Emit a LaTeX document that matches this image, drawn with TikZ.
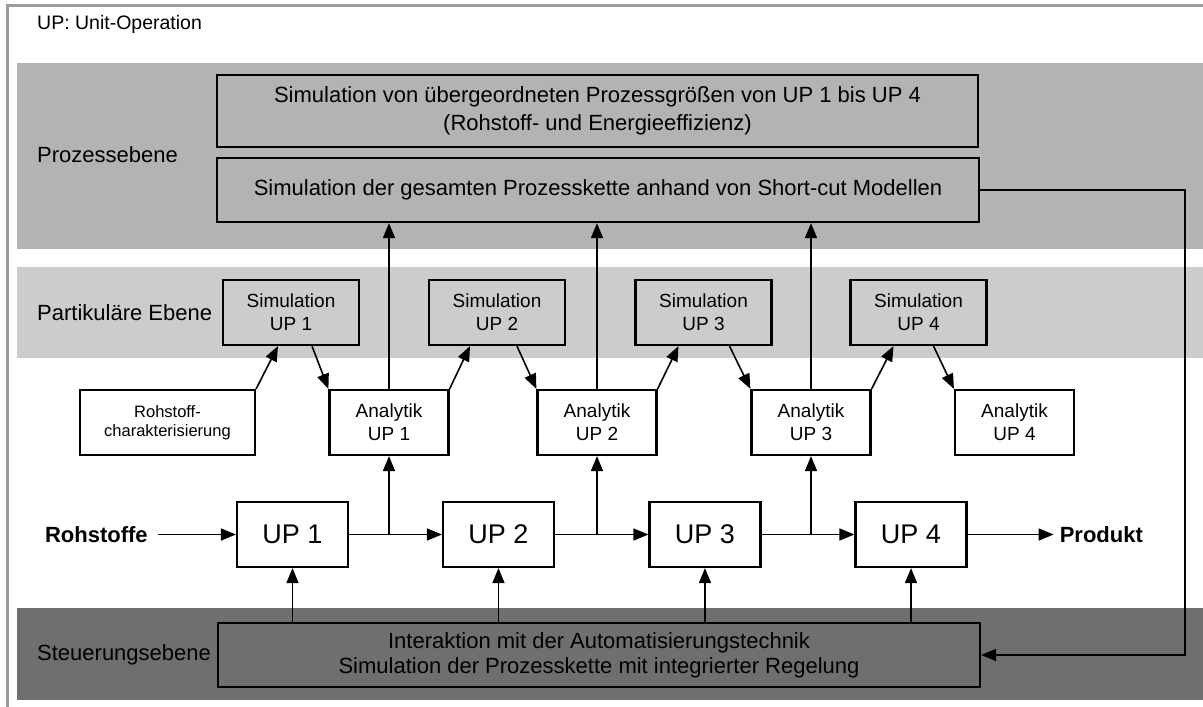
\documentclass[tikz,border=0pt]{standalone}
\usepackage{fontspec}
\setmainfont{Liberation Sans}
\usetikzlibrary{arrows.meta,positioning}

\definecolor{prozessgrau}{HTML}{B3B3B3}
\definecolor{partikelgrau}{HTML}{CCCCCC}
\definecolor{steuergrau}{HTML}{6F6F6F}
\definecolor{rahmengrau}{HTML}{9C9C9C}

\begin{document}
\begin{tikzpicture}[x=1pt, y=-1pt,
	box/.style={draw, line width=2.2pt, inner sep=0pt, align=center},
	ebene/.style={anchor=west, inner sep=0pt, font=\fontsize{22}{26}\selectfont},
	arr/.style={-{Triangle[length=15pt,width=12pt]}, line width=1.6pt},
	sim/.style={box, fill=partikelgrau, minimum width=136pt, minimum height=65pt, font=\fontsize{19}{23}\selectfont},
	ana/.style={box, fill=white, minimum width=119pt, minimum height=65pt, font=\fontsize{19}{23}\selectfont},
	up/.style={box, fill=white, minimum width=111pt, minimum height=65pt, font=\fontsize{27}{32}\selectfont}]
	\useasboundingbox (0,0) rectangle (1203,707);
	\draw [rahmengrau, line width=3pt] (7,707) -- (7,5) -- (1203,5);
	\fill [prozessgrau] (17,63) rectangle (1203,249);
	\fill [partikelgrau] (17,267) rectangle (1203,358);
	\fill [steuergrau] (17,608) rectangle (1203,700);

	\node [ebene, font=\fontsize{19.5}{23}\selectfont] (legende) at (37,24) {UP: Unit-Operation};
	\node [ebene] (prozess) at (37,155) {Prozessebene};
	\node [ebene] (partikel) at (37,313) {Partikuläre Ebene};
	\node [ebene] (steuerung) at (37,655) {Steuerungsebene};

	\node [box, fill=prozessgrau, minimum width=761pt, minimum height=72pt, font=\fontsize{22}{28}\selectfont] (groessen) at (597.5,111) {Simulation von übergeordneten Prozessgrößen von UP 1 bis UP 4\\(Rohstoff- und Energieeffizienz)};
	\node [box, fill=prozessgrau, minimum width=762pt, minimum height=64pt, font=\fontsize{22}{28}\selectfont] (kette) at (598,190) {Simulation der gesamten Prozesskette anhand von Short-cut Modellen};

	\node [sim] (sim1) at (291,312.5) {Simulation\\UP 1};
	\node [sim] (sim2) at (497,312.5) {Simulation\\UP 2};
	\node [sim] (sim3) at (703.5,312.5) {Simulation\\UP 3};
	\node [sim] (sim4) at (918.5,312.5) {Simulation\\UP 4};

	\node [ana, minimum width=175pt, font=\fontsize{16.5}{19}\selectfont] (roh) at (167.5,422.5) {Rohstoff-\\charakterisierung};
	\node [ana] (ana1) at (389,422.5) {Analytik\\UP 1};
	\node [ana] (ana2) at (597,422.5) {Analytik\\UP 2};
	\node [ana] (ana3) at (811,422.5) {Analytik\\UP 3};
	\node [ana] (ana4) at (1014.5,422.5) {Analytik\\UP 4};

	\node [up] (up1) at (292.5,534.5) {UP 1};
	\node [up] (up2) at (498.5,534.5) {UP 2};
	\node [up] (up3) at (705,534.5) {UP 3};
	\node [up] (up4) at (911,534.5) {UP 4};
	\node [left=78pt of up1, inner xsep=10pt, inner ysep=0pt, font=\fontsize{22}{26}\selectfont\bfseries] (rohstoffe) {Rohstoffe};
	\node [right=86pt of up4, inner xsep=6pt, inner ysep=0pt, font=\fontsize{22}{26}\selectfont\bfseries] (produkt) {Produkt};

	\node [box, fill=steuergrau, minimum width=762pt, minimum height=64pt, font=\fontsize{22}{25}\selectfont] (steuer) at (599,655) {Interaktion mit der Automatisierungstechnik\\Simulation der Prozesskette mit integrierter Regelung};
	\coordinate (rueck) at (1185,400);

	\draw [arr] (rohstoffe) -- (up1);
	\draw [arr] (up1) -- (up2);
	\draw [arr] (up2) -- (up3);
	\draw [arr] (up3) -- (up4);
	\draw [arr] (up4) -- (produkt);

	\draw [arr] (up1.east -| ana1) -- (ana1);
	\draw [arr] (up2.east -| ana2) -- (ana2);
	\draw [arr] (up3.east -| ana3) -- (ana3);
	\draw [arr] (ana1) -- (ana1 |- kette.south);
	\draw [arr] (ana2) -- (ana2 |- kette.south);
	\draw [arr] (ana3) -- (ana3 |- kette.south);

	\draw [arr] (roh.north east) -- ([xshift=-13pt]sim1.south);
	\draw [arr] ([xshift=21pt]sim1.south) -- (ana1.north west);
	\draw [arr] (ana1.north east) -- ([xshift=-27pt]sim2.south);
	\draw [arr] ([xshift=20pt]sim2.south) -- (ana2.north west);
	\draw [arr] (ana2.north east) -- ([xshift=-25pt]sim3.south);
	\draw [arr] ([xshift=26pt]sim3.south) -- (ana3.north west);
	\draw [arr] (ana3.north east) -- ([xshift=-25pt]sim4.south);
	\draw [arr] ([xshift=15pt]sim4.south) -- (ana4.north west);

	\draw [arr] (steuer.north -| up1) -- (up1);
	\draw [arr] (steuer.north -| up2) -- (up2);
	\draw [arr] (steuer.north -| up3) -- (up3);
	\draw [arr] (steuer.north -| up4) -- (up4);

	\draw [arr] (kette.east) -| (rueck) |- (steuer.east);
\end{tikzpicture}
\end{document}
